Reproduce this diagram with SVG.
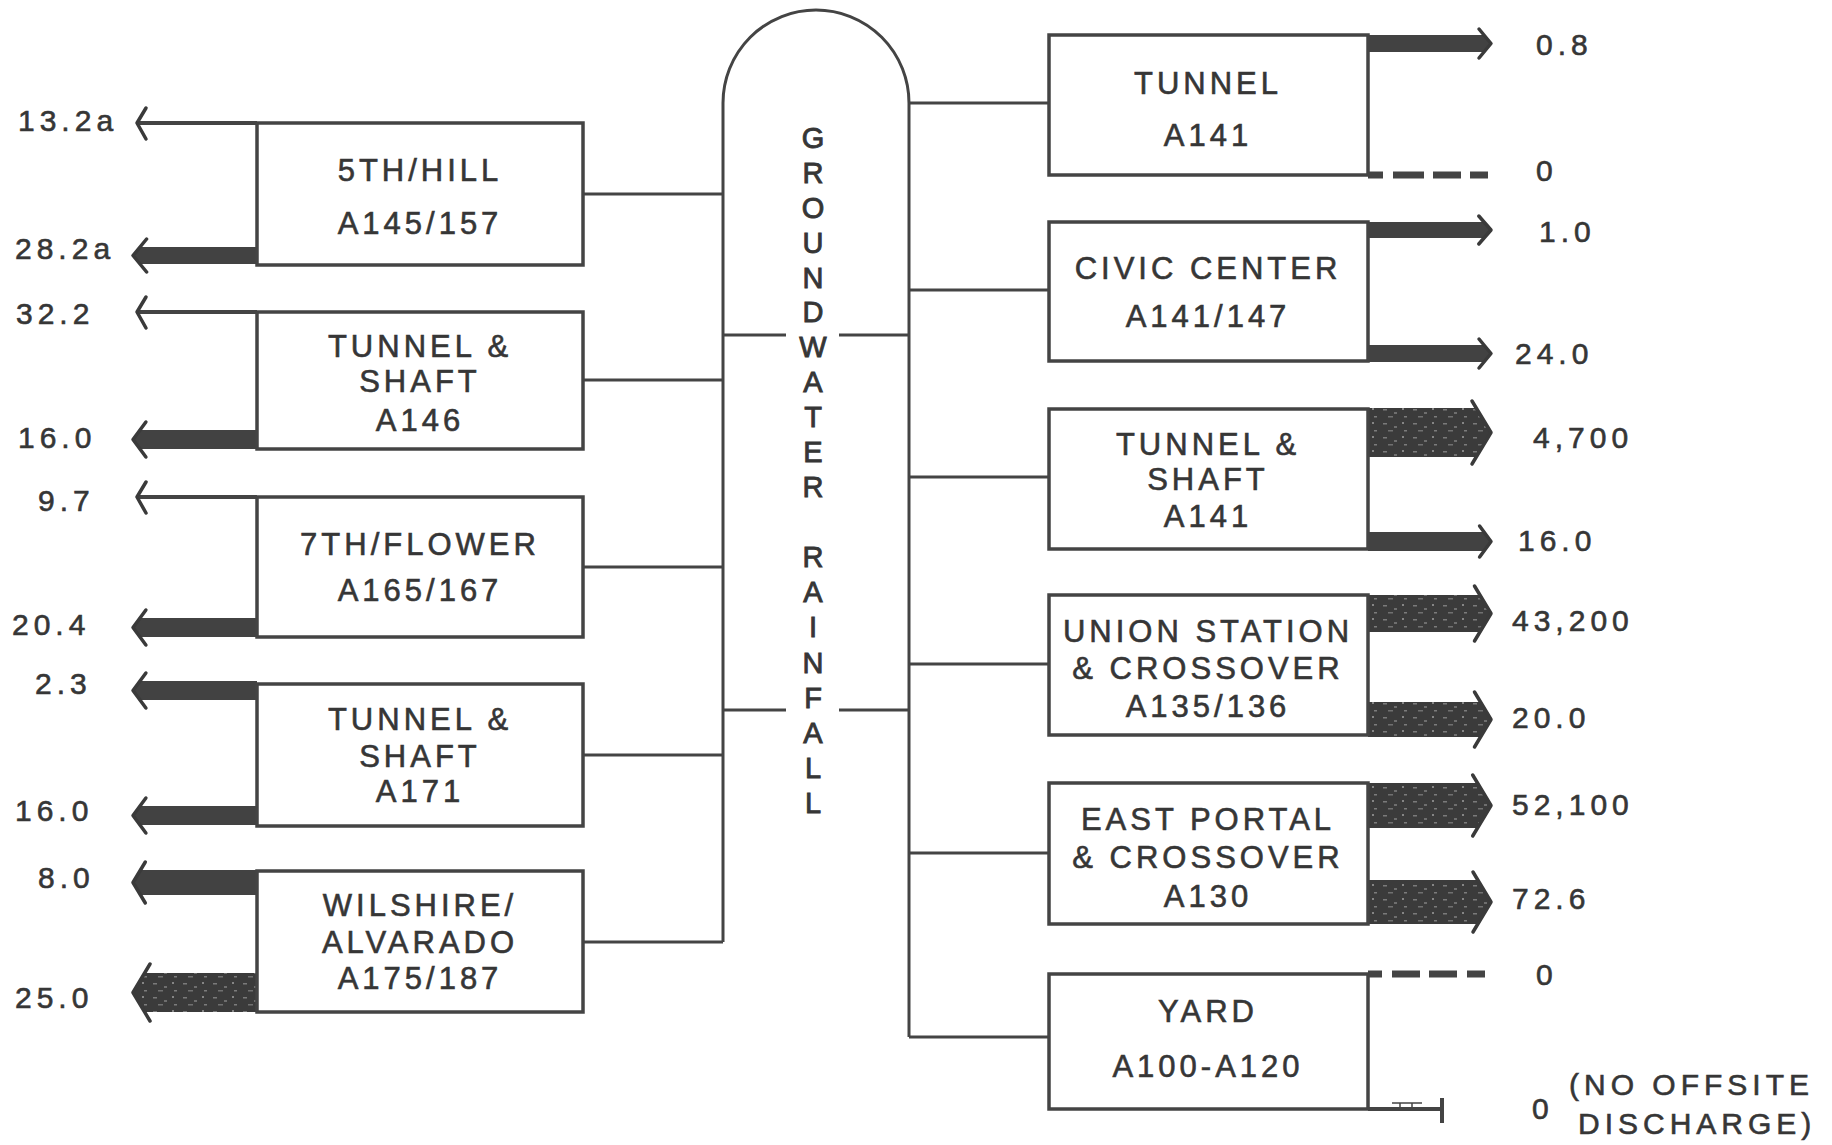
<svg xmlns="http://www.w3.org/2000/svg" width="1832" height="1145" viewBox="0 0 1832 1145">
<style>
.bx{fill:#fff;stroke:#444;stroke-width:3.5}
.ln{fill:none;stroke:#444;stroke-width:3}
.thin{fill:none;stroke:#444;stroke-width:4}
.chev{fill:none;stroke:#3a3a3a;stroke-width:3.5;stroke-linejoin:round;stroke-linecap:round}
.arr{fill:#424242}
.big{fill:url(#speck)}
.dash{stroke:#444;stroke-width:7}
text{font-family:"Liberation Sans",Arial,Helvetica,sans-serif;fill:#363636;stroke:#363636;stroke-width:0.6}
.t{font-size:31px;letter-spacing:4px;text-anchor:middle}
.lab{font-size:30px;letter-spacing:5px}
.pl{font-size:29px;text-anchor:middle;stroke-width:0.9}
</style>
<defs>
<pattern id="speck" width="30" height="14" patternUnits="userSpaceOnUse">
<rect width="30" height="14" fill="#3b3b3b"/>
<rect x="3" y="3" width="4" height="1.5" fill="#7a7a7a"/>
<rect x="14" y="6" width="3" height="2" fill="#6e6e6e"/>
<rect x="22" y="2" width="2" height="2" fill="#858585"/>
<rect x="8" y="10" width="5" height="1.5" fill="#707070"/>
<rect x="24" y="10" width="3" height="1.5" fill="#7c7c7c"/>
</pattern>
</defs>

<g id="connectors">
<path class="ln" d="M723,942 L723,103 A93,93 0 0 1 909,103 L909,1037"/>
<path class="ln" d="M583,194H723 M583,380H723 M583,567H723 M583,755H723 M583,942H723"/>
<path class="ln" d="M909,103H1049 M909,290H1049 M909,477H1049 M909,664H1049 M909,853H1049 M909,1037H1049"/>
<path class="ln" d="M723,335H786 M839,335H909 M723,710H786 M839,710H909"/>
</g>

<g id="collector">
<text class="pl"><tspan x="813" y="148">G</tspan><tspan x="813" y="183">R</tspan><tspan x="813" y="218">O</tspan><tspan x="813" y="253">U</tspan><tspan x="813" y="288">N</tspan><tspan x="813" y="322">D</tspan><tspan x="813" y="357">W</tspan><tspan x="813" y="392">A</tspan><tspan x="813" y="427">T</tspan><tspan x="813" y="462">E</tspan><tspan x="813" y="497">R</tspan></text>
<text class="pl"><tspan x="813" y="567">R</tspan><tspan x="813" y="602">A</tspan><tspan x="813" y="637">I</tspan><tspan x="813" y="673">N</tspan><tspan x="813" y="708">F</tspan><tspan x="813" y="743">A</tspan><tspan x="813" y="778">L</tspan><tspan x="813" y="813">L</tspan></text>
</g>

<g id="node-5th-hill">
<path class="thin" d="M257,123H137"/>
<polyline class="chev" points="146,108 137,123 146,139"/>
<polygon class="arr" points="257,247 140,247 133,255.5 140,264 257,264"/>
<polyline class="chev" points="146.6,239 133,255.5 146.6,272"/>
<rect class="bx" x="257" y="123" width="326" height="142"/>
<text class="t" x="420" y="181">5TH/HILL</text>
<text class="t" x="420" y="234">A145/157</text>
<text class="lab" x="18" y="131">13.2a</text>
<text class="lab" x="15" y="259">28.2a</text>
</g>

<g id="node-a146">
<path class="thin" d="M257,312H137"/>
<polyline class="chev" points="146,297 137,312 146,328"/>
<polygon class="arr" points="257,430 140,430 133,439.5 140,449 257,449"/>
<polyline class="chev" points="145.9,422 133,439.5 145.9,457"/>
<rect class="bx" x="257" y="312" width="326" height="137"/>
<text class="t" x="420" y="357">TUNNEL &amp;</text>
<text class="t" x="420" y="392">SHAFT</text>
<text class="t" x="420" y="431">A146</text>
<text class="lab" x="16" y="324">32.2</text>
<text class="lab" x="18" y="448">16.0</text>
</g>

<g id="node-7th-flower">
<path class="thin" d="M257,497H137"/>
<polyline class="chev" points="146,482 137,497 146,513"/>
<polygon class="arr" points="257,618 140,618 133,627.5 140,637 257,637"/>
<polyline class="chev" points="145.9,610 133,627.5 145.9,645"/>
<rect class="bx" x="257" y="497" width="326" height="140"/>
<text class="t" x="420" y="555">7TH/FLOWER</text>
<text class="t" x="420" y="601">A165/167</text>
<text class="lab" x="38" y="511">9.7</text>
<text class="lab" x="12" y="635">20.4</text>
</g>

<g id="node-a171">
<polygon class="arr" points="257,681 140,681 133,690.5 140,700 257,700"/>
<polyline class="chev" points="145.9,673 133,690.5 145.9,708"/>
<polygon class="arr" points="257,806 140,806 133,815.5 140,825 257,825"/>
<polyline class="chev" points="145.9,798 133,815.5 145.9,833"/>
<rect class="bx" x="257" y="684" width="326" height="142"/>
<text class="t" x="420" y="730">TUNNEL &amp;</text>
<text class="t" x="420" y="767">SHAFT</text>
<text class="t" x="420" y="802">A171</text>
<text class="lab" x="35" y="694">2.3</text>
<text class="lab" x="15" y="821">16.0</text>
</g>

<g id="node-wilshire">
<polygon class="arr" points="257,870 140.5,870 133,882.5 140.5,895 257,895"/>
<polyline class="chev" points="145.3,862 133,882.5 145.3,903"/>
<polygon class="big" points="257,973 144.7,973 133,992.5 144.7,1012 257,1012"/>
<polyline class="chev" points="150,964 133,992.5 150,1021"/>
<rect class="bx" x="257" y="871" width="326" height="141"/>
<text class="t" x="420" y="916">WILSHIRE/</text>
<text class="t" x="420" y="953">ALVARADO</text>
<text class="t" x="420" y="989">A175/187</text>
<text class="lab" x="38" y="888">8.0</text>
<text class="lab" x="15" y="1008">25.0</text>
</g>

<g id="node-tunnel-a141">
<polygon class="arr" points="1368,35 1484,35 1491,43.5 1484,52 1368,52"/>
<polyline class="chev" points="1479,29 1491,43.5 1479,58"/>
<path class="dash" d="M1368,175H1383 M1393,175H1424 M1433,175H1461 M1470,175H1488"/>
<rect class="bx" x="1049" y="35" width="319" height="140"/>
<text class="t" x="1208" y="94">TUNNEL</text>
<text class="t" x="1208" y="146">A141</text>
<text class="lab" x="1536" y="55">0.8</text>
<text class="lab" x="1536" y="181">0</text>
</g>

<g id="node-civic-center">
<polygon class="arr" points="1368,222 1484,222 1491,230 1484,238 1368,238"/>
<polyline class="chev" points="1478.8,216 1491,230 1478.8,244"/>
<polygon class="arr" points="1368,345 1484,345 1491,353.5 1484,362 1368,362"/>
<polyline class="chev" points="1479,339 1491,353.5 1479,368"/>
<rect class="bx" x="1049" y="222" width="319" height="139"/>
<text class="t" x="1208" y="279">CIVIC CENTER</text>
<text class="t" x="1208" y="327">A141/147</text>
<text class="lab" x="1539" y="242">1.0</text>
<text class="lab" x="1515" y="364">24.0</text>
</g>

<g id="node-tunnel-shaft-a141">
<polygon class="big" points="1368,408 1476.3,408 1491,432.5 1476.3,457 1368,457"/>
<polyline class="chev" points="1472,401 1491,432.5 1472,464"/>
<polygon class="arr" points="1368,532 1484,532 1491,541.5 1484,551 1368,551"/>
<polyline class="chev" points="1479.6,526 1491,541.5 1479.6,557"/>
<rect class="bx" x="1049" y="409" width="319" height="140"/>
<text class="t" x="1208" y="455">TUNNEL &amp;</text>
<text class="t" x="1208" y="490">SHAFT</text>
<text class="t" x="1208" y="527">A141</text>
<text class="lab" x="1533" y="448">4,700</text>
<text class="lab" x="1518" y="551">16.0</text>
</g>

<g id="node-union-station">
<polygon class="big" points="1368,595 1479.9,595 1491,613.5 1479.9,632 1368,632"/>
<polyline class="chev" points="1474.5,586 1491,613.5 1474.5,641"/>
<polygon class="big" points="1368,702 1480.5,702 1491,719.5 1480.5,737 1368,737"/>
<polyline class="chev" points="1474.5,692 1491,719.5 1474.5,747"/>
<rect class="bx" x="1049" y="595" width="319" height="140"/>
<text class="t" x="1208" y="642">UNION STATION</text>
<text class="t" x="1208" y="679">&amp; CROSSOVER</text>
<text class="t" x="1208" y="717">A135/136</text>
<text class="lab" x="1512" y="631">43,200</text>
<text class="lab" x="1512" y="728">20.0</text>
</g>

<g id="node-east-portal">
<polygon class="big" points="1368,783 1477.5,783 1491,805.5 1477.5,828 1368,828"/>
<polyline class="chev" points="1472.7,775 1491,805.5 1472.7,836"/>
<polygon class="big" points="1368,880 1477.8,880 1491,902 1477.8,924 1368,924"/>
<polyline class="chev" points="1473,872 1491,902 1473,932"/>
<rect class="bx" x="1049" y="783" width="319" height="141"/>
<text class="t" x="1208" y="830">EAST PORTAL</text>
<text class="t" x="1208" y="868">&amp; CROSSOVER</text>
<text class="t" x="1208" y="907">A130</text>
<text class="lab" x="1512" y="815">52,100</text>
<text class="lab" x="1512" y="909">72.6</text>
</g>

<g id="node-yard">
<path class="dash" d="M1368,974H1382 M1392,974H1420 M1429,974H1457 M1467,974H1485"/>
<path class="thin" d="M1368,1109H1442 M1442,1098V1123"/>
<path fill="none" stroke="#444" stroke-width="1.5" d="M1392,1103H1422 M1400,1103V1107 M1412,1103V1107"/>
<rect class="bx" x="1049" y="974" width="319" height="135"/>
<text class="t" x="1208" y="1022">YARD</text>
<text class="t" x="1208" y="1077">A100-A120</text>
<text class="lab" x="1536" y="985">0</text>
<text class="lab" x="1532" y="1119">0</text>
<text class="lab" x="1569" y="1095">(NO OFFSITE</text>
<text class="lab" x="1578" y="1134">DISCHARGE)</text>
</g>
</svg>
